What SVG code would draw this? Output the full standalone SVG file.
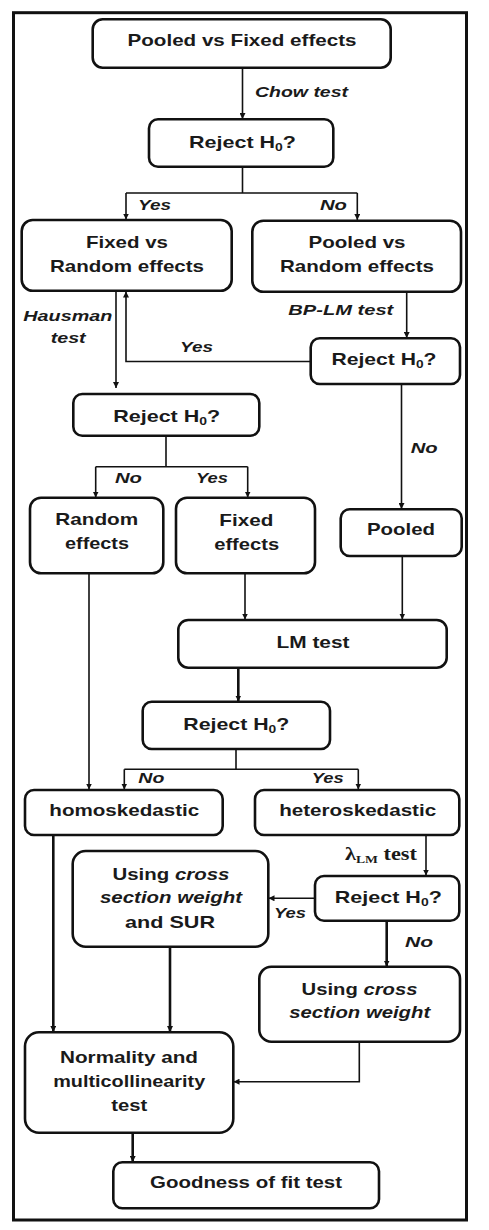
<svg xmlns="http://www.w3.org/2000/svg" width="489" height="1230" viewBox="0 0 489 1230">
<defs>
<style>
.frame{fill:none;stroke:#111;stroke-width:3}
.box{fill:#fff;stroke:#111;stroke-width:2.6}
.t{font-family:"Liberation Sans",Arial,sans-serif;font-weight:bold;font-size:17px;fill:#1a1a1a;text-anchor:middle}
.l{font-family:"Liberation Sans",Arial,sans-serif;font-weight:bold;font-style:italic;font-size:15px;fill:#1a1a1a}
.c{fill:none;stroke:#111;stroke-width:1.6}
.ck{fill:none;stroke:#111;stroke-width:2.6}
.sub{font-size:11px}
</style>
<marker id="ah" viewBox="0 0 6 6" refX="6" refY="3" markerWidth="6" markerHeight="6" markerUnits="userSpaceOnUse" orient="auto">
<path d="M0,0 L6,3 L0,6 Z" fill="#111"/>
</marker>
</defs>
<rect x="0" y="0" width="489" height="1230" fill="#fff"/>
<rect class="frame" x="13.5" y="12.7" width="453" height="1207.3"/>

<g id="connectors">
<path class="c" d="M242.5,67.7 V119" marker-end="url(#ah)"/>
<path class="c" d="M242.5,166.7 V193 M126,193 H357.3"/>
<path class="c" d="M126,193 V219.5" marker-end="url(#ah)"/>
<path class="c" d="M357.3,193 V220" marker-end="url(#ah)"/>
<path class="c" d="M116,290.7 V388" marker-end="url(#ah)"/>
<path class="c" d="M310.7,361.5 H126 V291.5" marker-end="url(#ah)"/>
<path class="c" d="M406.7,291.7 V338" marker-end="url(#ah)"/>
<path class="c" d="M166,435.7 V466.7 M95.7,466.7 H247.7"/>
<path class="c" d="M95.7,466.7 V497.5" marker-end="url(#ah)"/>
<path class="c" d="M247.7,466.7 V497.5" marker-end="url(#ah)"/>
<path class="c" d="M401.5,384 V509" marker-end="url(#ah)"/>
<path class="c" d="M89,573.3 V789.5" marker-end="url(#ah)"/>
<path class="c" d="M245,573.3 V619.5" marker-end="url(#ah)"/>
<path class="c" d="M402.3,556 V619.5" marker-end="url(#ah)"/>
<path class="ck" d="M238.3,667.7 V701.5" marker-end="url(#ah)"/>
<path class="c" d="M236,749 V769.3 M124.3,769.3 H358.3"/>
<path class="c" d="M124.3,769.3 V789.5" marker-end="url(#ah)"/>
<path class="c" d="M358.3,769.3 V789.5" marker-end="url(#ah)"/>
<path class="ck" d="M53.3,835 V1032" marker-end="url(#ah)"/>
<path class="c" d="M426,835 V875.5" marker-end="url(#ah)"/>
<path class="c" d="M315,898.3 H268.5" marker-end="url(#ah)"/>
<path class="ck" d="M386.7,920.7 V966.5" marker-end="url(#ah)"/>
<path class="ck" d="M170,946.7 V1032" marker-end="url(#ah)"/>
<path class="c" d="M359.3,1041.7 V1081.7 H233.5" marker-end="url(#ah)"/>
<path class="ck" d="M132.7,1132.7 V1162" marker-end="url(#ah)"/>
</g>

<g id="labels">
<text class="l" x="255" y="96.7" textLength="93" lengthAdjust="spacingAndGlyphs">Chow test</text>
<text class="l" x="138" y="210" textLength="33" lengthAdjust="spacingAndGlyphs">Yes</text>
<text class="l" x="320" y="210" textLength="27" lengthAdjust="spacingAndGlyphs">No</text>
<text class="l" x="23.3" y="320.7" textLength="89" lengthAdjust="spacingAndGlyphs">Hausman</text>
<text class="l" x="50.7" y="343.3" textLength="35" lengthAdjust="spacingAndGlyphs">test</text>
<text class="l" x="288.3" y="315" textLength="105" lengthAdjust="spacingAndGlyphs">BP-LM test</text>
<text class="l" x="180" y="351.7" textLength="33" lengthAdjust="spacingAndGlyphs">Yes</text>
<text class="l" x="115" y="482.7" textLength="27" lengthAdjust="spacingAndGlyphs">No</text>
<text class="l" x="196" y="482.7" textLength="32" lengthAdjust="spacingAndGlyphs">Yes</text>
<text class="l" x="410.7" y="453.3" textLength="27" lengthAdjust="spacingAndGlyphs">No</text>
<text class="l" x="138.3" y="783.3" textLength="26" lengthAdjust="spacingAndGlyphs">No</text>
<text class="l" x="311.7" y="783.3" textLength="32" lengthAdjust="spacingAndGlyphs">Yes</text>
<text x="345" y="860" textLength="72" lengthAdjust="spacingAndGlyphs" style="font-family:'Liberation Serif','Times New Roman',serif;font-weight:bold;font-size:18px;fill:#1a1a1a">λ<tspan dy="3" font-size="11">LM</tspan><tspan dy="-3"> test</tspan></text>
<text class="l" x="274" y="918.3" textLength="32" lengthAdjust="spacingAndGlyphs">Yes</text>
<text class="l" x="405" y="946.7" textLength="28" lengthAdjust="spacingAndGlyphs">No</text>
</g>

<g id="n-pooled-fixed">
<rect class="box" x="92.7" y="19.3" width="298" height="48.4" rx="10"/>
<text class="t" x="242" y="45.7" textLength="229" lengthAdjust="spacingAndGlyphs">Pooled vs Fixed effects</text>
</g>
<g id="n-reject1">
<rect class="box" x="149" y="119.3" width="184.3" height="47.4" rx="9"/>
<text class="t" x="242.5" y="147.7" textLength="107" lengthAdjust="spacingAndGlyphs">Reject H<tspan class="sub" dy="3">0</tspan><tspan dy="-3">?</tspan></text>
</g>
<g id="n-fixed-random">
<rect class="box" x="21.7" y="220" width="210" height="70.7" rx="11"/>
<text class="t" x="127" y="247.7" textLength="82" lengthAdjust="spacingAndGlyphs">Fixed vs</text>
<text class="t" x="127" y="271.7" textLength="154" lengthAdjust="spacingAndGlyphs">Random effects</text>
</g>
<g id="n-pooled-random">
<rect class="box" x="252.3" y="220.7" width="208.7" height="71" rx="11"/>
<text class="t" x="357" y="248" textLength="97" lengthAdjust="spacingAndGlyphs">Pooled vs</text>
<text class="t" x="357" y="272" textLength="154" lengthAdjust="spacingAndGlyphs">Random effects</text>
</g>
<g id="n-reject3">
<rect class="box" x="310.7" y="338.3" width="149.3" height="45.7" rx="9"/>
<text class="t" x="384" y="365" textLength="105" lengthAdjust="spacingAndGlyphs">Reject H<tspan class="sub" dy="3">0</tspan><tspan dy="-3">?</tspan></text>
</g>
<g id="n-reject2">
<rect class="box" x="73.3" y="394" width="186" height="41.7" rx="9"/>
<text class="t" x="166.7" y="421.7" textLength="107" lengthAdjust="spacingAndGlyphs">Reject H<tspan class="sub" dy="3">0</tspan><tspan dy="-3">?</tspan></text>
</g>
<g id="n-random-effects">
<rect class="box" x="30" y="497.7" width="133.3" height="75.6" rx="11"/>
<text class="t" x="96.7" y="525" textLength="83" lengthAdjust="spacingAndGlyphs">Random</text>
<text class="t" x="97" y="549" textLength="64" lengthAdjust="spacingAndGlyphs">effects</text>
</g>
<g id="n-fixed-effects">
<rect class="box" x="176" y="497.7" width="139" height="75.6" rx="11"/>
<text class="t" x="246.3" y="526" textLength="54" lengthAdjust="spacingAndGlyphs">Fixed</text>
<text class="t" x="246.7" y="550" textLength="65" lengthAdjust="spacingAndGlyphs">effects</text>
</g>
<g id="n-pooled">
<rect class="box" x="340.7" y="509.3" width="121" height="46.7" rx="9"/>
<text class="t" x="401" y="535" textLength="68" lengthAdjust="spacingAndGlyphs">Pooled</text>
</g>
<g id="n-lm-test">
<rect class="box" x="178.3" y="620" width="268.4" height="47.7" rx="10"/>
<text class="t" x="313" y="648.3" textLength="73" lengthAdjust="spacingAndGlyphs">LM test</text>
</g>
<g id="n-reject4">
<rect class="box" x="142.7" y="701.7" width="187.3" height="47.3" rx="9"/>
<text class="t" x="236.3" y="730" textLength="106" lengthAdjust="spacingAndGlyphs">Reject H<tspan class="sub" dy="3">0</tspan><tspan dy="-3">?</tspan></text>
</g>
<g id="n-homo">
<rect class="box" x="25" y="790" width="197.7" height="45" rx="9"/>
<text class="t" x="124.3" y="816" textLength="150" lengthAdjust="spacingAndGlyphs">homoskedastic</text>
</g>
<g id="n-hetero">
<rect class="box" x="255" y="790" width="204.3" height="45" rx="9"/>
<text class="t" x="357.7" y="816" textLength="157" lengthAdjust="spacingAndGlyphs">heteroskedastic</text>
</g>
<g id="n-reject5">
<rect class="box" x="315" y="876" width="144.3" height="44.7" rx="9"/>
<text class="t" x="388.3" y="902.7" textLength="107" lengthAdjust="spacingAndGlyphs">Reject H<tspan class="sub" dy="3">0</tspan><tspan dy="-3">?</tspan></text>
</g>
<g id="n-sur">
<rect class="box" x="72.7" y="851" width="195.6" height="95.7" rx="13"/>
<text class="t" x="171" y="880" textLength="117" lengthAdjust="spacingAndGlyphs">Using <tspan font-style="italic">cross</tspan></text>
<text class="t" x="171" y="903.3" textLength="142" lengthAdjust="spacingAndGlyphs" font-style="italic">section weight</text>
<text class="t" x="170" y="928.3" textLength="90" lengthAdjust="spacingAndGlyphs">and SUR</text>
</g>
<g id="n-cross-weight">
<rect class="box" x="259.3" y="966.7" width="200.7" height="75" rx="12"/>
<text class="t" x="359.5" y="995" textLength="116" lengthAdjust="spacingAndGlyphs">Using <tspan font-style="italic">cross</tspan></text>
<text class="t" x="359.7" y="1018.3" textLength="141" lengthAdjust="spacingAndGlyphs" font-style="italic">section weight</text>
</g>
<g id="n-normality">
<rect class="box" x="25" y="1032.3" width="208.3" height="100.4" rx="14"/>
<text class="t" x="129" y="1062.7" textLength="138" lengthAdjust="spacingAndGlyphs">Normality and</text>
<text class="t" x="129.2" y="1087.3" textLength="152" lengthAdjust="spacingAndGlyphs">multicollinearity</text>
<text class="t" x="129.2" y="1110.7" textLength="36" lengthAdjust="spacingAndGlyphs">test</text>
</g>
<g id="n-goodness">
<rect class="box" x="113.3" y="1162.3" width="265.7" height="46" rx="9"/>
<text class="t" x="246" y="1188.3" textLength="192" lengthAdjust="spacingAndGlyphs">Goodness of fit test</text>
</g>
</svg>
